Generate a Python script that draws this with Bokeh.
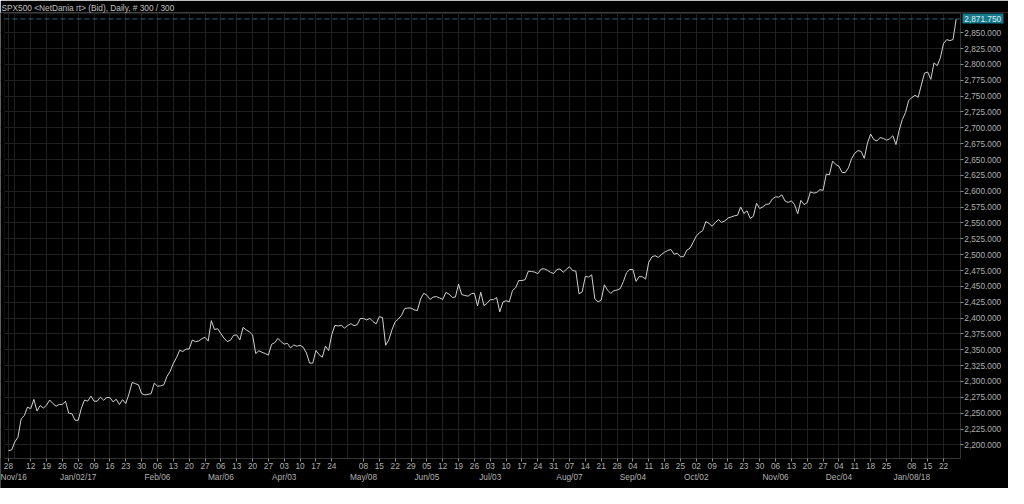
import pandas as pd
from bokeh.plotting import figure
from bokeh.models import (Range1d, FixedTicker, LinearAxis, NumeralTickFormatter,
                          BoxAnnotation, ColumnDataSource)
from bokeh.embed import file_html
from bokeh.resources import INLINE

# ---------------- data ----------------
title_text = "SPX500 <NetDania rt> (Bid), Daily, # 300 / 300"
start_date = "2016-12-01"
end_date = "2018-01-26"
closed_days = ["2017-12-25", "2018-01-01"]

prices = [
    2191.08, 2191.95,
    2204.71, 2212.23, 2241.35, 2246.19, 2259.53,
    2256.96, 2271.72, 2253.28, 2262.03, 2258.07,
    2262.53, 2270.76, 2265.18, 2260.96, 2263.79,
    2263.80, 2268.88, 2249.92, 2249.26, 2238.83,
    2238.80, 2257.83, 2270.75, 2269.00, 2276.98,
    2268.90, 2268.90, 2275.32, 2270.44, 2274.64,
    2274.60, 2267.89, 2271.89, 2263.69, 2271.31,
    2265.20, 2280.07, 2298.37, 2296.68, 2294.69,
    2280.90, 2278.87, 2279.55, 2280.85, 2297.42,
    2292.56, 2293.08, 2294.67, 2307.87, 2316.10,
    2328.25, 2337.58, 2349.25, 2347.22, 2351.16,
    2351.20, 2365.38, 2362.82, 2363.81, 2367.34,
    2369.75, 2363.64, 2395.96, 2381.92, 2383.12,
    2375.31, 2368.39, 2362.98, 2364.87, 2372.60,
    2373.47, 2365.45, 2385.26, 2381.38, 2378.25,
    2373.47, 2344.02, 2348.45, 2345.96, 2343.98,
    2341.59, 2358.57, 2361.13, 2368.06, 2362.72,
    2358.84, 2360.16, 2352.95, 2357.49, 2355.54,
    2357.16, 2353.78, 2344.93, 2328.95, 2329.00,
    2349.01, 2342.19, 2338.17, 2355.84, 2348.69,
    2374.15, 2388.61, 2387.45, 2388.77, 2384.20,
    2388.33, 2391.17, 2388.13, 2389.52, 2399.29,
    2399.38, 2396.92, 2399.63, 2394.44, 2390.90,
    2402.32, 2400.67, 2357.03, 2365.72, 2381.73,
    2394.02, 2398.42, 2404.39, 2415.07, 2415.82,
    2415.80, 2412.91, 2411.80, 2430.06, 2439.07,
    2436.10, 2429.33, 2433.14, 2433.79, 2431.77,
    2429.39, 2440.35, 2437.92, 2432.46, 2433.15,
    2453.46, 2437.03, 2435.61, 2434.50, 2438.30,
    2439.07, 2419.38, 2440.69, 2419.70, 2423.41,
    2429.01, 2429.00, 2432.54, 2409.75, 2425.18,
    2427.43, 2425.53, 2443.25, 2447.83, 2459.27,
    2459.14, 2460.61, 2473.83, 2473.45, 2472.54,
    2469.91, 2477.13, 2477.83, 2475.42, 2472.10,
    2470.30, 2476.35, 2477.57, 2472.16, 2476.83,
    2480.91, 2474.92, 2474.02, 2438.21, 2441.32,
    2465.84, 2464.61, 2468.11, 2430.01, 2425.55,
    2428.37, 2452.51, 2444.04, 2438.97, 2443.05,
    2444.24, 2446.30, 2457.59, 2471.65, 2476.55,
    2476.50, 2457.85, 2465.54, 2465.10, 2461.43,
    2488.11, 2496.48, 2498.37, 2495.62, 2500.23,
    2503.87, 2506.65, 2508.24, 2500.60, 2502.22,
    2496.66, 2496.84, 2507.04, 2510.06, 2519.36,
    2529.12, 2534.58, 2537.74, 2552.07, 2549.33,
    2544.73, 2550.64, 2555.24, 2550.93, 2553.17,
    2557.64, 2559.36, 2561.26, 2562.10, 2575.21,
    2564.98, 2569.13, 2557.15, 2560.40, 2581.07,
    2572.83, 2575.26, 2579.36, 2579.85, 2587.84,
    2591.13, 2590.64, 2594.38, 2584.62, 2582.30,
    2584.84, 2578.87, 2564.62, 2585.64, 2578.85,
    2582.14, 2599.03, 2597.08, 2598.00, 2602.42,
    2601.42, 2627.04, 2626.07, 2647.58, 2642.22,
    2639.44, 2629.57, 2629.27, 2636.98, 2651.50,
    2659.99, 2664.11, 2662.85, 2652.01, 2675.81,
    2690.16, 2681.47, 2679.25, 2684.57, 2683.34,
    2680.50, 2682.62, 2687.54, 2673.61,
    2695.81, 2713.06, 2723.99, 2743.15,
    2747.71, 2751.29, 2748.23, 2767.56, 2786.24,
    2788.00, 2776.42, 2802.56, 2798.03, 2810.30,
    2832.97, 2839.13, 2837.54, 2839.25, 2871.75,
]

hidden_week_labels = ["2016-12-05", "2017-05-01", "2018-01-01"]
month_weeks = ["2016-11-28", "2017-01-02", "2017-02-06", "2017-03-06", "2017-04-03",
               "2017-05-08", "2017-06-05", "2017-07-03", "2017-08-07", "2017-09-04",
               "2017-10-02", "2017-11-06", "2017-12-04", "2018-01-08"]
month_labels = ["Nov/16", "Jan/02/17", "Feb/06", "Mar/06", "Apr/03", "May/08", "Jun/05",
                "Jul/03", "Aug/07", "Sep/04", "Oct/02", "Nov/06", "Dec/04", "Jan/08/18"]
y_ticks = list(range(2200, 2851, 25))
last_price = 2871.75
last_price_text = "2,871.750"

# ---------------- derived ----------------
days = pd.bdate_range(start_date, end_date)
days = days[~days.isin(pd.to_datetime(closed_days))]
n = len(days)
idx = list(range(n))
mondays = [d - pd.Timedelta(days=d.weekday()) for d in days]

week_idx = {}
for i, m in enumerate(mondays):
    key = m.strftime("%Y-%m-%d")
    if key not in week_idx:
        week_idx[key] = i

all_week_ticks = list(week_idx.values())
day_ticks = [i for k, i in week_idx.items() if k not in hidden_week_labels]
day_overrides = {i: pd.Timestamp(k).strftime("%d") for k, i in week_idx.items()
                 if k not in hidden_week_labels}

# ---------------- geometry (plot frame covers the whole canvas under the title) ----
X0, X1 = -2.52, 315.5          # canvas left / right edges, in bar units
X_AXIS = 300.29                # price-scale line
X_BORDER = -1.29               # left border line of the chart area
BOX_LOC = X_AXIS + 0.82        # start of the last-price box
Y0, Y1 = 2131.2, 2881.9        # canvas bottom / frame top, in price units
Y_AXIS = 2179.3                # time-axis line
Y_BORDER = 2881.1              # top border line of the chart area

month_pos = [week_idx[w] for w in month_weeks]
month_pos[0] = max(month_pos[0], X0 + 4.04)
month_overrides = {p_: lab for p_, lab in zip(month_pos, month_labels)}

FONT = "Liberation Sans"
FS = "8.3px"
TXT = "#b0b0b0"
GRID = "#202020"
BG = "#000000"
TEAL_BOX = "#17798a"
TEAL_LINE = "#1b6b79"

src = ColumnDataSource(dict(i=idx, price=prices[:n]))

p = figure(width=1008, height=488, output_backend="svg", toolbar_location=None,
           x_range=Range1d(X0, X1), y_range=Range1d(Y0, Y1),
           y_axis_location="right",
           background_fill_color=BG, border_fill_color=BG,
           min_border_left=0, min_border_right=0, min_border_top=0, min_border_bottom=0)
p.outline_line_color = None

p.title.text = title_text
p.title.text_font = FONT
p.title.text_font_size = FS
p.title.text_font_style = "normal"
p.title.text_color = "#c0c0c0"
p.title.standoff = 0
p.title.offset = 1

# grids (plus the chart-area border lines)
p.xgrid.ticker = FixedTicker(ticks=[X_BORDER] + all_week_ticks)
p.ygrid.ticker = FixedTicker(ticks=y_ticks + [Y_BORDER])
p.xgrid.grid_line_color = GRID
p.ygrid.grid_line_color = GRID

# blank out the grid outside the chart area (price-scale column and time-scale strip)
p.add_layout(BoxAnnotation(left=X_AXIS, fill_color=BG, fill_alpha=1.0,
                           line_alpha=0, level="underlay"))
p.add_layout(BoxAnnotation(top=Y_AXIS, fill_color=BG, fill_alpha=1.0,
                           line_alpha=0, level="underlay"))
p.add_layout(BoxAnnotation(right=X_BORDER, fill_color=BG, fill_alpha=1.0,
                           line_alpha=0, level="underlay"))


def style_axis(ax, tick_out, standoff):
    ax.major_label_text_font = FONT
    ax.major_label_text_font_size = FS
    ax.major_label_text_color = TXT
    ax.major_tick_out = tick_out
    ax.major_tick_in = 0
    ax.minor_tick_out = 0
    ax.minor_tick_in = 0
    ax.major_tick_line_color = "#8c8c8c"
    ax.major_label_standoff = standoff


# price scale (right)
ya = p.yaxis[0]
ya.ticker = FixedTicker(ticks=y_ticks)
ya.formatter = NumeralTickFormatter(format="0,0.000")
style_axis(ya, 3, 1)
ya.axis_line_color = "#333333"
ya.fixed_location = X_AXIS
ya.bounds = (Y_AXIS, Y1)

# time axis (day numbers)
xa = p.xaxis[0]
xa.ticker = FixedTicker(ticks=day_ticks)
xa.major_label_overrides = day_overrides
style_axis(xa, 3, 2)
xa.axis_line_color = "#333333"
xa.fixed_location = Y_AXIS
xa.bounds = (X_BORDER, X_AXIS)

# second time axis row (month labels)
ma = LinearAxis(ticker=FixedTicker(ticks=month_pos), fixed_location=Y_AXIS)
ma.major_label_overrides = month_overrides
style_axis(ma, 0, 14)
ma.axis_line_color = None
p.add_layout(ma, "below")

# price line
p.line(x="i", y="price", source=src, line_color="#d0d0d0", line_width=1)

# last price: dashed level line across the chart area
p.segment(x0=[X_BORDER], y0=[last_price], x1=[X_AXIS], y1=[last_price],
          line_color=TEAL_LINE, line_dash="5 3", line_width=1)

# last price: box (thick tick of a fixed-location axis) and its label
box_ax = LinearAxis(ticker=FixedTicker(ticks=[last_price]), fixed_location=BOX_LOC)
box_ax.major_label_overrides = {last_price: " "}
box_ax.major_tick_out = 41
box_ax.major_tick_in = 0
box_ax.minor_tick_out = 0
box_ax.minor_tick_in = 0
box_ax.major_tick_line_width = 10
box_ax.major_tick_line_color = TEAL_BOX
box_ax.axis_line_color = None
box_ax.major_label_text_font_size = FS
p.add_layout(box_ax, "right")

lbl_ax = LinearAxis(ticker=FixedTicker(ticks=[last_price]), fixed_location=X_AXIS)
lbl_ax.major_label_overrides = {last_price: last_price_text}
style_axis(lbl_ax, 0, 4)
lbl_ax.major_label_text_color = "#dcf0f3"
lbl_ax.axis_line_color = None
p.add_layout(lbl_ax, "right")

open("out.html", "w").write(file_html(p, INLINE))
